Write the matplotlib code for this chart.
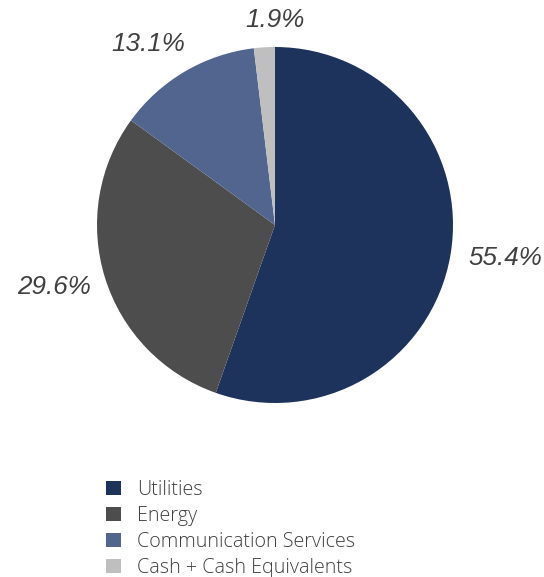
import numpy as np
import matplotlib
matplotlib.use("Agg")
import matplotlib.pyplot as plt
from matplotlib.patches import Patch

categories = ["Utilities", "Energy", "Communication Services", "Cash + Cash Equivalents"]
values = [55.4, 29.6, 13.1, 1.9]
labels = ["55.4%", "29.6%", "13.1%", "1.9%"]
colors = ["#1d335c", "#4d4d4d", "#52658f", "#bfbfbf"]

W, H = 544, 577
fig = plt.figure(figsize=(W/100, H/100), dpi=100)
ax = fig.add_axes([0, 0, 1, 1])

cx, cy, R = 275, H - 225, 178
wedges, _ = ax.pie(values, colors=colors, startangle=90, counterclock=False,
                   center=(cx, cy), radius=R, frame=True,
                   wedgeprops=dict(linewidth=0))
ax.set_xlim(0, W)
ax.set_ylim(0, H)
ax.set_aspect("equal")
ax.axis("off")

# per-label radial distance and angular offset (degrees)
dist = [1.31, 1.29, 1.24, 1.15]
off = [1.5, -1.5, 4.5, -3.4]
for w, lab, d, o in zip(wedges, labels, dist, off):
    ang = np.deg2rad((w.theta1 + w.theta2) / 2 + o)
    ax.text(cx + d * R * np.cos(ang), cy + d * R * np.sin(ang), lab,
            ha="center", va="center", fontsize=18.7, style="italic",
            family="Liberation Sans", color="#404040")

handles = [Patch(facecolor=c, edgecolor="none") for c in colors]
leg = ax.legend(handles, categories, loc="upper left",
                bbox_to_anchor=(106/W, 1 - 480/H), frameon=False,
                prop=dict(family="Open Sans", weight="light", size=14.2),
                handlelength=0.76, handleheight=0.76, handletextpad=0.8,
                labelspacing=0.30, borderpad=0, borderaxespad=0)
for t in leg.get_texts():
    t.set_color("#404040")

fig.savefig("out.png", dpi=100)
